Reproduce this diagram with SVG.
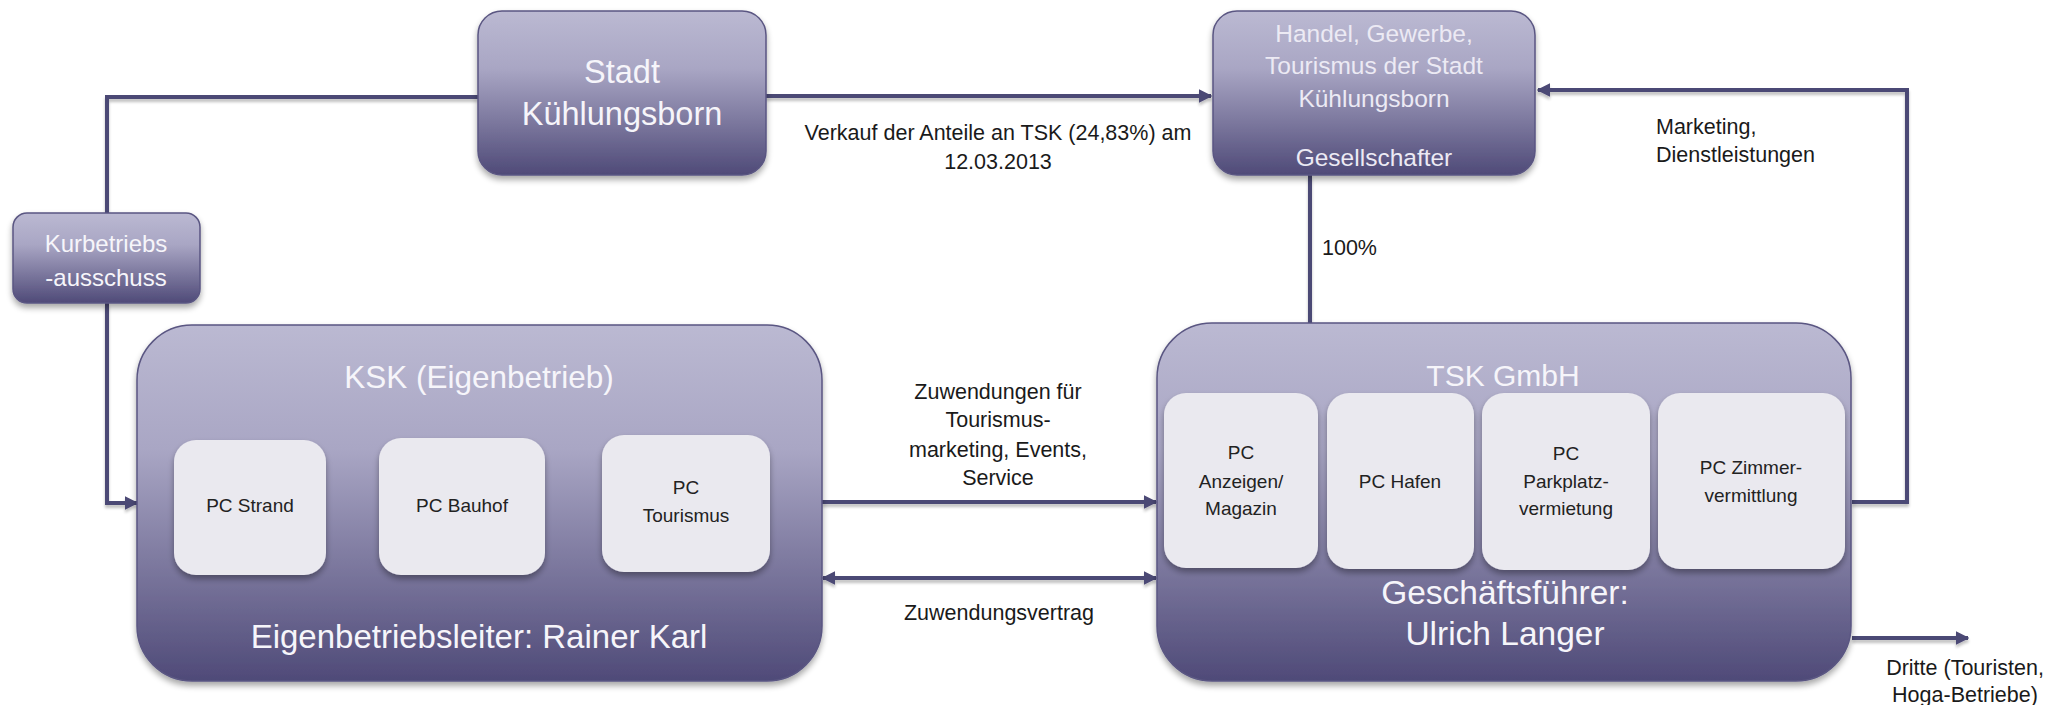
<svg xmlns="http://www.w3.org/2000/svg" width="2069" height="705" viewBox="0 0 2069 705">
<defs>
<linearGradient id="g" x1="0" y1="0" x2="0" y2="1">
<stop offset="0" stop-color="#bbb9d2"/>
<stop offset="0.35" stop-color="#a9a6c4"/>
<stop offset="1" stop-color="#4f4a78"/>
</linearGradient>
<filter id="sh" x="-10%" y="-10%" width="120%" height="130%">
<feGaussianBlur in="SourceAlpha" stdDeviation="3"/>
<feOffset dx="0" dy="4" result="b"/>
<feComponentTransfer><feFuncA type="linear" slope="0.35"/></feComponentTransfer>
<feMerge><feMergeNode/><feMergeNode in="SourceGraphic"/></feMerge>
</filter>
<filter id="lsh" filterUnits="userSpaceOnUse" x="0" y="0" width="2069" height="705">
<feGaussianBlur in="SourceAlpha" stdDeviation="1.5"/>
<feOffset dx="0" dy="3"/>
<feComponentTransfer><feFuncA type="linear" slope="0.25"/></feComponentTransfer>
<feMerge><feMergeNode/><feMergeNode in="SourceGraphic"/></feMerge>
</filter>
<marker id="ah" viewBox="0 0 10 10" refX="9" refY="5" markerWidth="3.4" markerHeight="3.4" orient="auto-start-reverse" markerUnits="strokeWidth">
<path d="M0,0 L10,5 L0,10 z" fill="#4b4874"/>
</marker>
<style>
.box{fill:url(#g);stroke:#5a5682;stroke-width:1.5;filter:url(#sh)}
.pc{fill:#eae9ef;filter:url(#sh)}
.wt{font-family:"Liberation Sans",Arial,sans-serif;fill:#f6f5fa;text-anchor:middle;dominant-baseline:central}
.lt{font-family:"Liberation Sans",Arial,sans-serif;fill:#eceaf4;text-anchor:middle;dominant-baseline:central}
.dk{font-family:"Liberation Sans",Arial,sans-serif;fill:#222222;text-anchor:middle;dominant-baseline:central;font-size:19px}
.lb{font-family:"Liberation Sans",Arial,sans-serif;fill:#1a1a1a;dominant-baseline:central;font-size:21.5px}
.ln{fill:none;stroke:#4b4874;stroke-width:4;filter:url(#lsh)}
</style>
</defs>
<rect width="2069" height="705" fill="#ffffff"/>

<g id="connectors">
<path class="ln" d="M478,97 H107 V213"/>
<path class="ln" d="M107,303 V503 H137" marker-end="url(#ah)"/>
<path class="ln" d="M766,96 H1211" marker-end="url(#ah)"/>
<path class="ln" d="M1310,175 V323"/>
<path class="ln" d="M1852,502 H1907 V90 H1538" marker-end="url(#ah)"/>
<path class="ln" d="M822,502 H1156" marker-end="url(#ah)"/>
<path class="ln" d="M823,578 H1156" marker-start="url(#ah)" marker-end="url(#ah)"/>
<path class="ln" d="M1852,638 H1968" marker-end="url(#ah)"/>
<text class="lb" x="998" y="133" text-anchor="middle">Verkauf der Anteile an TSK (24,83%) am</text>
<text class="lb" x="998" y="162" text-anchor="middle">12.03.2013</text>
<text class="lb" x="1322" y="248" font-size="20">100%</text>
<text class="lb" x="1656" y="127" font-size="22">Marketing,</text>
<text class="lb" x="1656" y="155" font-size="22">Dienstleistungen</text>
<text class="lb" x="998" y="392" text-anchor="middle">Zuwendungen für</text>
<text class="lb" x="998" y="420" text-anchor="middle">Tourismus-</text>
<text class="lb" x="998" y="450" text-anchor="middle">marketing, Events,</text>
<text class="lb" x="998" y="478" text-anchor="middle">Service</text>
<text class="lb" x="999" y="613" text-anchor="middle">Zuwendungsvertrag</text>
<text class="lb" x="1965" y="668" text-anchor="middle" font-size="20">Dritte (Touristen,</text>
<text class="lb" x="1965" y="695" text-anchor="middle" font-size="20">Hoga-Betriebe)</text>
</g>

<g id="stadt">
<rect class="box" x="478" y="11" width="288" height="164" rx="24"/>
<text class="wt" x="622" y="72" font-size="32.5">Stadt</text>
<text class="wt" x="622" y="114" font-size="32.5">Kühlungsborn</text>
</g>

<g id="handel">
<rect class="box" x="1213" y="11" width="322" height="164" rx="24"/>
<text class="lt" x="1374" y="33" font-size="24.5">Handel, Gewerbe,</text>
<text class="lt" x="1374" y="65" font-size="24.5">Tourismus der Stadt</text>
<text class="lt" x="1374" y="98" font-size="24.5">Kühlungsborn</text>
<text class="lt" x="1374" y="157" font-size="24.5">Gesellschafter</text>
</g>

<g id="kurbetrieb">
<rect class="box" x="13" y="213" width="187" height="90" rx="14"/>
<text class="wt" x="106" y="243" font-size="24">Kurbetriebs</text>
<text class="wt" x="106" y="277" font-size="24">-ausschuss</text>
</g>

<g id="ksk">
<rect class="box" x="137" y="325" width="685" height="356" rx="55"/>
<text class="wt" x="479" y="377" font-size="31.5">KSK (Eigenbetrieb)</text>
<text class="wt" x="479" y="636" font-size="33">Eigenbetriebsleiter: Rainer Karl</text>
</g>
<g id="pc-strand">
<rect class="pc" x="174" y="440" width="152" height="135" rx="22"/>
<text class="dk" x="250" y="505">PC Strand</text>
</g>
<g id="pc-bauhof">
<rect class="pc" x="379" y="438" width="166" height="137" rx="22"/>
<text class="dk" x="462" y="505">PC Bauhof</text>
</g>
<g id="pc-tourismus">
<rect class="pc" x="602" y="435" width="168" height="137" rx="22"/>
<text class="dk" x="686" y="487">PC</text>
<text class="dk" x="686" y="515">Tourismus</text>
</g>

<g id="tsk">
<rect class="box" x="1157" y="323" width="694" height="358" rx="55"/>
<text class="wt" x="1503" y="375" font-size="30">TSK GmbH</text>
<text class="wt" x="1505" y="592" font-size="33.5">Geschäftsführer:</text>
<text class="wt" x="1505" y="633" font-size="33.5">Ulrich Langer</text>
</g>
<g id="pc-anzeigen">
<rect class="pc" x="1164" y="393" width="154" height="175" rx="22"/>
<text class="dk" x="1241" y="452">PC</text>
<text class="dk" x="1241" y="481">Anzeigen/</text>
<text class="dk" x="1241" y="508">Magazin</text>
</g>
<g id="pc-hafen">
<rect class="pc" x="1327" y="393" width="147" height="176" rx="22"/>
<text class="dk" x="1400" y="481">PC Hafen</text>
</g>
<g id="pc-parkplatz">
<rect class="pc" x="1482" y="393" width="168" height="177" rx="22"/>
<text class="dk" x="1566" y="453">PC</text>
<text class="dk" x="1566" y="481">Parkplatz-</text>
<text class="dk" x="1566" y="508">vermietung</text>
</g>
<g id="pc-zimmer">
<rect class="pc" x="1658" y="393" width="187" height="176" rx="22"/>
<text class="dk" x="1751" y="467">PC Zimmer-</text>
<text class="dk" x="1751" y="495">vermittlung</text>
</g>
</svg>
